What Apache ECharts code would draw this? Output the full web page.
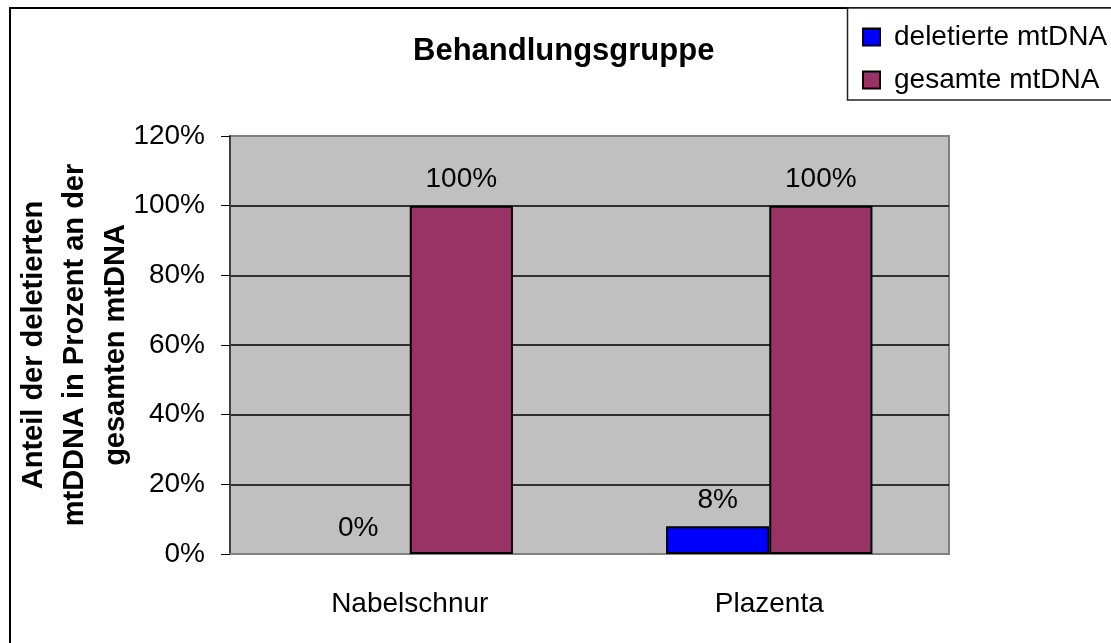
<!DOCTYPE html>
<html>
<head>
<meta charset="utf-8">
<script src="https://cdn.jsdelivr.net/npm/echarts@6/dist/echarts.min.js"></script>
<style>
  html, body { margin: 0; padding: 0; background: #fff; }
  #container { width: 1111px; height: 643px; }
</style>
</head>
<body>
<div id="container"></div>
<script>
var categories = ['Nabelschnur', 'Plazenta'];
var deletierte = [0, 8];
var gesamte = [100, 100];
var yTicks = [0, 20, 40, 60, 80, 100, 120];

var font = 'Liberation Sans, Arial, sans-serif';

var dom = document.getElementById('container');
var myChart = echarts.init(dom, null, { renderer: 'canvas' });

// Nullwerte ohne Rand zeichnen
function toItems(arr) {
  return arr.map(function (v) {
    return v === 0 ? { value: v, itemStyle: { borderWidth: 0 } } : v;
  });
}

var option = {
  backgroundColor: '#fff',
  animation: false,
  title: {
    text: 'Behandlungsgruppe',
    left: 408,
    top: 31,
    textStyle: { fontFamily: font, fontSize: 31, fontWeight: 'bold', color: '#000' }
  },
  legend: {
    orient: 'vertical',
    left: 857,
    top: 18,
    itemWidth: 17,
    itemHeight: 17,
    itemGap: 15,
    icon: 'rect',
    textStyle: { fontFamily: font, fontSize: 28, color: '#000', padding: [0, 0, 0, 9] },
    data: ['deletierte mtDNA', 'gesamte mtDNA']
  },
  graphic: [
    { type: 'rect', shape: { x: 10, y: 8, width: 1200, height: 700 }, style: { fill: 'none', stroke: '#000', lineWidth: 2 }, z: -1 },
    { type: 'rect', shape: { x: 847.5, y: 8, width: 300, height: 92 }, style: { fill: '#fff', stroke: '#222', lineWidth: 1.5 }, z: -1 }
  ],
  grid: {
    left: 230,
    right: 162,
    top: 136,
    bottom: 89,
    outerBoundsMode: 'none',
    containLabel: false,
    show: true,
    backgroundColor: '#c0c0c0',
    borderColor: '#808080',
    borderWidth: 2
  },
  xAxis: {
    type: 'category',
    data: categories,
    axisLine: { lineStyle: { color: '#808080', width: 2 } },
    axisTick: { show: false },
    axisLabel: { fontFamily: font, fontSize: 28, color: '#000', margin: 36 }
  },
  yAxis: {
    type: 'value',
    min: 0,
    max: 120,
    interval: 20,
    name: 'Anteil der deletierten\nmtDDNA in Prozent an der\ngesamten mtDNA',
    nameLocation: 'middle',
    nameRotate: 90,
    nameGap: 94,
    nameMoveOverlap: false,
    nameTextStyle: { fontFamily: font, fontSize: 29, fontWeight: 'bold', color: '#000', lineHeight: 41 },
    axisLine: { show: true, lineStyle: { color: '#404040', width: 2 } },
    axisTick: { show: true, length: 9, lineStyle: { color: '#000' } },
    axisLabel: {
      fontFamily: font, fontSize: 28, color: '#000', margin: 25,
      formatter: function (v) { return yTicks.indexOf(v) >= 0 ? v + '%' : ''; }
    },
    splitLine: {
      show: true,
      lineStyle: { color: ['#808080', '#000', '#000', '#000', '#000', '#000', '#808080'], width: 1.5 }
    }
  },
  series: [
    {
      name: 'deletierte mtDNA',
      type: 'bar',
      data: toItems(deletierte),
      barWidth: '28.7%',
      barGap: '0%',
      itemStyle: { color: '#0000ff', borderColor: '#000', borderWidth: 2 },
      label: {
        show: true, position: 'top', distance: 12,
        fontFamily: font, fontSize: 28, color: '#000',
        formatter: '{c}%'
      }
    },
    {
      name: 'gesamte mtDNA',
      type: 'bar',
      data: toItems(gesamte),
      barWidth: '28.7%',
      itemStyle: { color: '#993366', borderColor: '#000', borderWidth: 2 },
      label: {
        show: true, position: 'top', distance: 12,
        fontFamily: font, fontSize: 28, color: '#000',
        formatter: '{c}%'
      }
    }
  ]
};

myChart.setOption(option);
window.addEventListener('resize', myChart.resize);
</script>
</body>
</html>
